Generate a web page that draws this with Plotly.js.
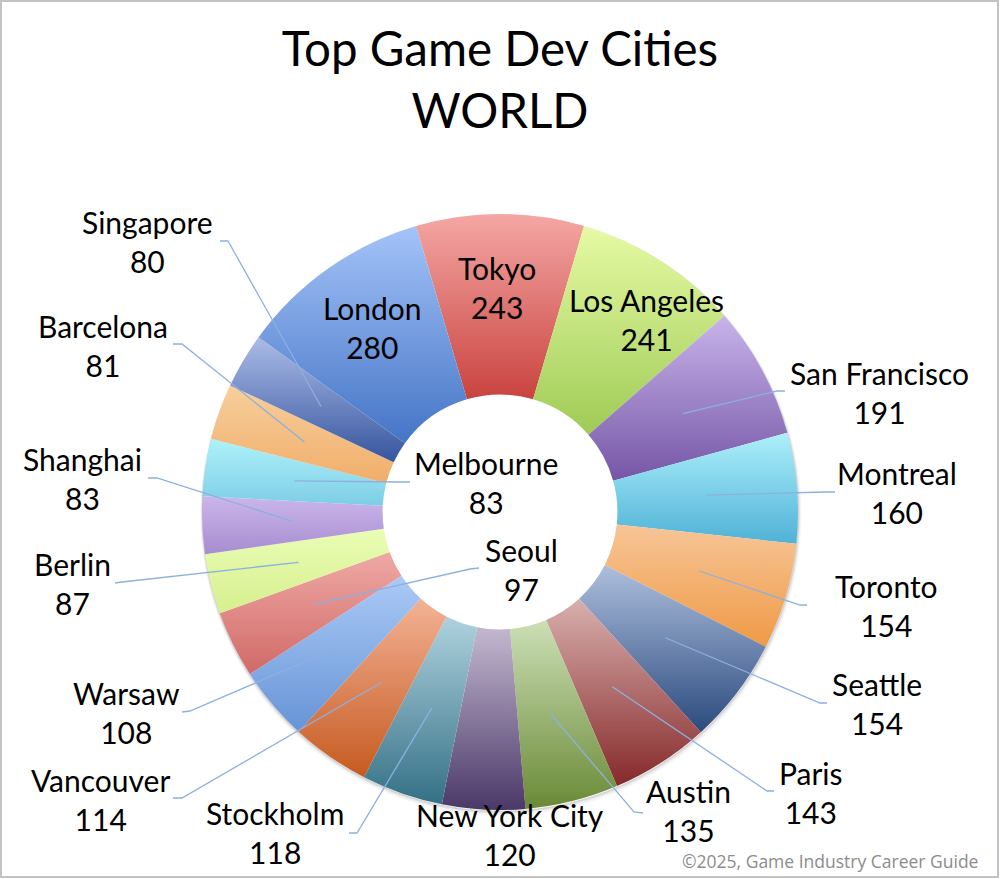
<!DOCTYPE html>
<html><head><meta charset="utf-8">
<script src="https://cdn.plot.ly/plotly-3.0.1.min.js"></script>
<style>html,body{margin:0;padding:0;background:#fff}</style>
</head><body>
<div id="chart" style="width:1000px;height:879px"></div>
<script>
// ---- data ----
const cities = ["Tokyo","Los Angeles","San Francisco","Montreal","Toronto","Seattle","Paris","Austin","New York City","Stockholm","Vancouver","Warsaw","Seoul","Berlin","Shanghai","Melbourne","Barcelona","Singapore","London"];
const studios = [243,241,191,160,154,154,143,135,120,118,114,108,97,87,83,83,81,80,280];
const colorsLight = ["#F4A7A4","#E6FAA4","#C8B4EA","#ADEFFB","#F7C597","#AEBFDD","#D8B0AE","#CCDFB6","#C4B8D0","#AFD2DE","#F3B295","#ABCAF6","#EFA9A5","#EAFDB5","#CBB6EA","#AEF2FA","#F7CF9C","#ACBCE8","#A4C3F8"];
const colorsDark  = ["#C9433F","#9FCB56","#7556A6","#4FB2D6","#EF9A45","#2B4A7E","#86292A","#6A8A36","#4A3868","#347086","#C65A20","#6694D6","#D06A68","#D6EF8E","#A68DD0","#7ECDE6","#F0AE6A","#36559E","#4575C6"];
const colorsMid   = ["#E07B78","#C6E67E","#A08AD0","#80D4EC","#F3B06E","#7088B2","#B06E6C","#9CB878","#8A7AA0","#72A2B4","#E08A5C","#88AEE8","#E08A86","#E0F6A0","#BAA2DE","#98E0F0","#F4C084","#7690C8","#789EE0"];

// ---- layout geometry (pixels) ----
const W = 1000, H = 879, CX = 500, CY = 512, R = 298, HOLE = 0.394;
// label block centres and leader line anchor points (label end, hook)
const labelPos = {
  "Tokyo":[497,287,null],
  "Los Angeles":[646,320,null],
  "San Francisco":[879,392,[[785,391],[777,391]]],
  "Montreal":[897,492,[[835,492],[826,492]]],
  "Toronto":[886,605,[[807,605],[800,605]]],
  "Seattle":[877,703,[[827,703],[820,703]]],
  "Paris":[811,792,[[774,791],[767,791]]],
  "Austin":[688,810,[[643,813],[634,812]]],
  "New York City":[510,834,null],
  "Stockholm":[275,832,[[349,833],[357,833]]],
  "Vancouver":[100,799,[[173,798],[182,798]]],
  "Warsaw":[126,712,[[182,712],[190,711]]],
  "Seoul":[521,569,[[479,568],[470,569]]],
  "Berlin":[72,583,[[115,583],[122,582]]],
  "Shanghai":[82,478,[[148,478],[157,478]]],
  "Melbourne":[486,483,[[410,482],[400,482]]],
  "Barcelona":[103,345,[[173,344],[182,344]]],
  "Singapore":[147,242,[[220,241],[228,241]]],
  "London":[372,327,null]
};

const px = x => x / W;
const py = y => 1 - y / H;

const total = studios.reduce((a,b)=>a+b,0);
const rotation = -0.5 * studios[0] / total * 360;

// slice mid angles from data
const midAngles = [];
let acc = rotation;
studios.forEach(v => { const span = v/total*360; midAngles.push(acc + span/2); acc += span; });

const annotations = [];
const shapes = [];

// soft shadow just outside the lower edge of the ring (outline only, hole stays white)
[[3, 5, 0.04], [2, 3, 0.06], [1.5, 1.5, 0.08]].forEach(s => {
  const off = s[0], wdt = s[1];
  shapes.push({type: "circle", xref: "paper", yref: "paper", layer: "below",
    x0: px(CX - R + off * 0.3), x1: px(CX + R + off * 0.3),
    y0: py(CY + R + off), y1: py(CY - R + off),
    fillcolor: "rgba(0,0,0,0)", line: {width: wdt, color: "rgba(0,0,0," + s[2] + ")"}});
});

const rf = (1 + HOLE) / 2;
cities.forEach((c, i) => {
  const p = labelPos[c];
  annotations.push({
    text: c + "<br>" + studios[i],
    x: px(p[0]), y: py(p[1]), xref: "paper", yref: "paper",
    xanchor: "center", yanchor: "middle", showarrow: false,
    font: {family: "Lato, sans-serif", size: 30, color: "#000"}
  });
  if (p[2]) {
    const th = midAngles[i] * Math.PI / 180;
    const tx = CX + rf * R * Math.sin(th), ty = CY - rf * R * Math.cos(th);
    const pts = [p[2][0], p[2][1], [tx, ty]];
    const d = pts.map((q, k) => (k ? "L" : "M") + px(q[0]).toFixed(5) + "," + py(q[1]).toFixed(5)).join(" ");
    shapes.push({type: "path", xref: "paper", yref: "paper", path: d, layer: "above",
      line: {color: "#8DB0E0", width: 1.3}});
  }
});

annotations.push({
  text: "©2025, Game Industry Career Guide",
  x: px(980), y: py(861), xref: "paper", yref: "paper", xanchor: "right", yanchor: "middle",
  showarrow: false, font: {family: "Open Sans, sans-serif", size: 17.5, color: "#8C8C8C"}
});

shapes.push({type: "rect", xref: "paper", yref: "paper", x0: px(1), x1: px(998), y0: py(877), y1: py(1),
  line: {color: "#C3C3C3", width: 2}, layer: "below"});

const data = [{
  type: "pie",
  labels: cities,
  values: studios,
  sort: false,
  direction: "clockwise",
  rotation: rotation,
  hole: HOLE,
  textinfo: "none",
  hoverinfo: "none",
  marker: {colors: colorsMid, line: {width: 0}},
  domain: {x: [px(CX - R), px(CX + R)], y: [py(CY + R), py(CY - R)]},
  showlegend: false
}];

const layout = {
  width: W, height: H,
  margin: {l: 0, r: 0, t: 0, b: 0},
  paper_bgcolor: "#fff",
  showlegend: false,
  title: {text: "Top Game Dev Cities<br>WORLD", x: 0.5, xanchor: "center", xref: "paper",
    y: 1 - 66 / H, yanchor: "middle", yref: "container",
    font: {family: "Lato, sans-serif", size: 47.5, color: "#000"}},
  annotations: annotations,
  shapes: shapes
};

function applyGradients(gd) {
  const svg = gd.querySelector("svg.main-svg");
  if (!svg) return;
  const ns = "http://www.w3.org/2000/svg";
  let defs = svg.querySelector("defs");
  if (!defs) { defs = document.createElementNS(ns, "defs"); svg.insertBefore(defs, svg.firstChild); }
  gd.querySelectorAll("g.slice").forEach((g, k) => {
    const d = g.__data__;
    const i = (d && typeof d.i === "number") ? d.i : k;
    const id = "slicegrad" + i;
    if (!svg.querySelector("#" + id)) {
      const lg = document.createElementNS(ns, "linearGradient");
      lg.setAttribute("id", id);
      lg.setAttribute("x1", "0"); lg.setAttribute("y1", "0");
      lg.setAttribute("x2", "0"); lg.setAttribute("y2", "1");
      [[0, colorsLight[i]], [1, colorsDark[i]]].forEach(s => {
        const st = document.createElementNS(ns, "stop");
        st.setAttribute("offset", s[0]); st.setAttribute("stop-color", s[1]);
        lg.appendChild(st);
      });
      defs.appendChild(lg);
    }
    const path = g.querySelector("path.surface");
    if (path) path.style.fill = "url(#" + id + ")";
  });
}

Plotly.newPlot("chart", data, layout, {displayModeBar: false, staticPlot: true}).then(applyGradients);
</script>
</body></html>
